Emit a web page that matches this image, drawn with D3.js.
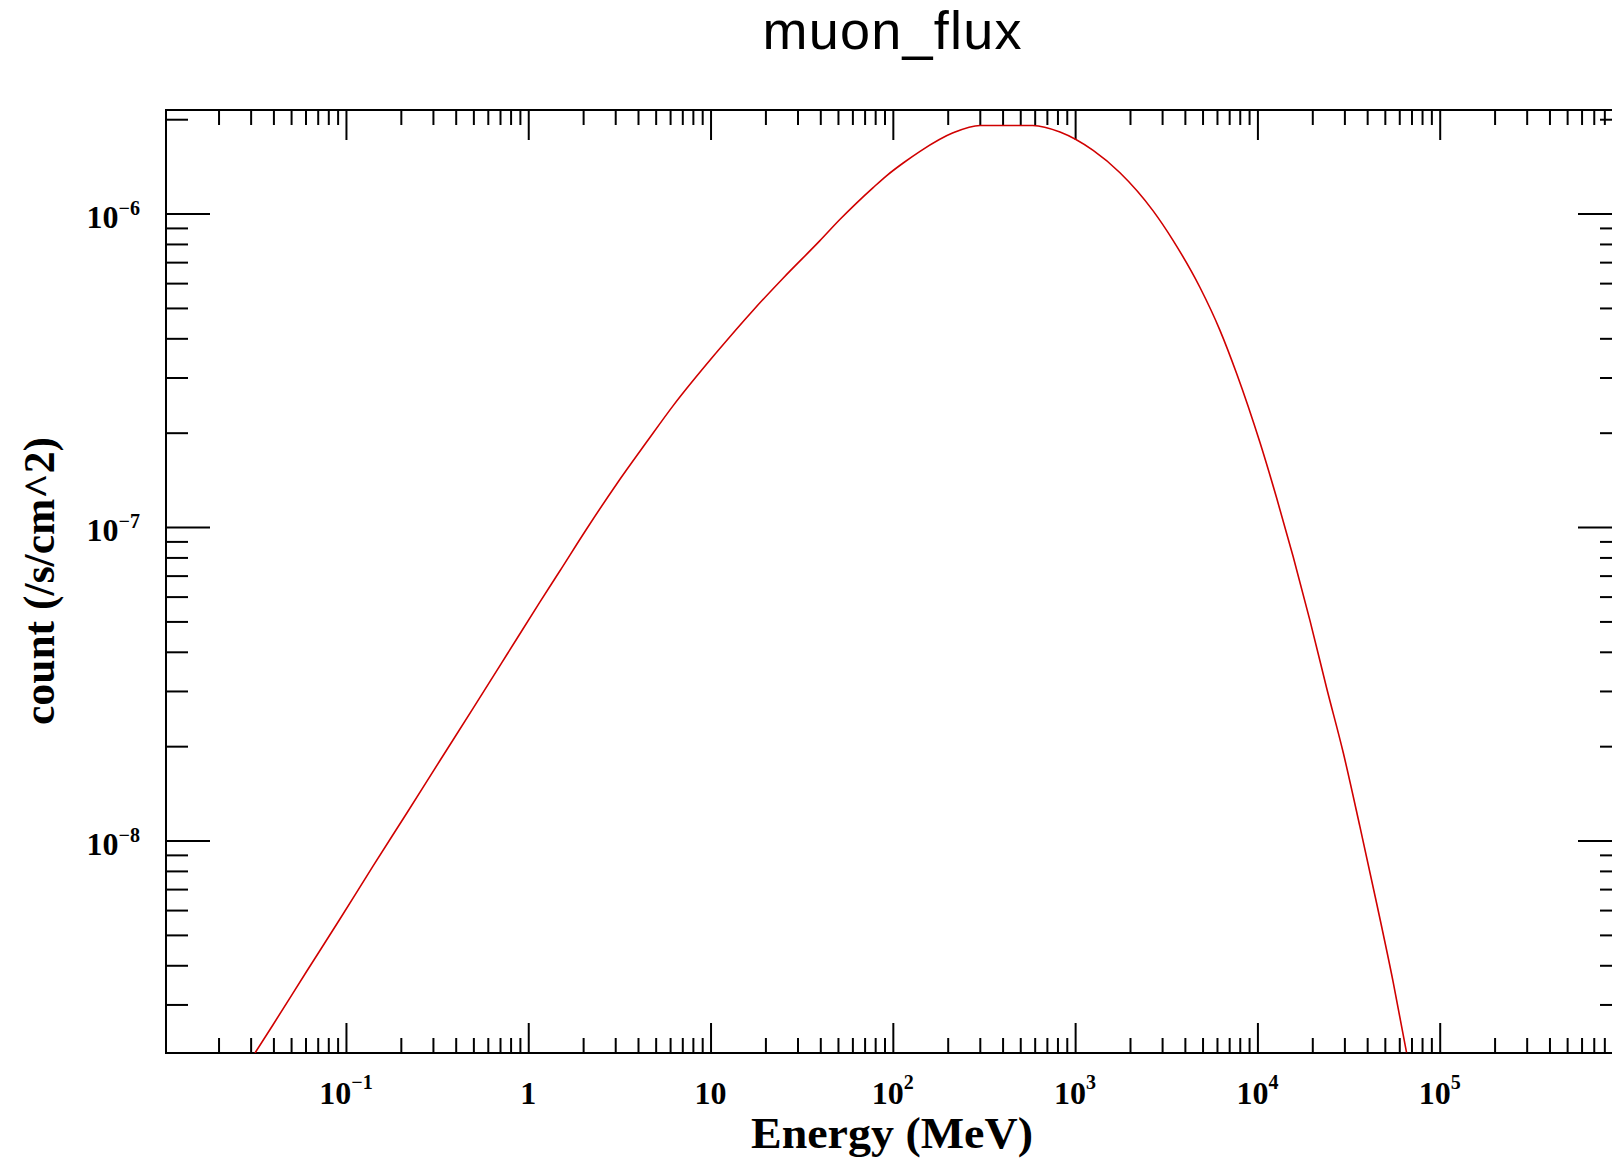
<!DOCTYPE html>
<html>
<head>
<meta charset="utf-8">
<script src="https://cdn.jsdelivr.net/npm/d3@7"></script>
<style>
  html, body { margin: 0; padding: 0; background: #ffffff; }
  svg { display: block; }
</style>
</head>
<body>
<svg id="chart" width="1612" height="1160"></svg>
<script>
// ---- data ----
const energyMeV = [0.0317, 0.0399, 0.0608, 0.0927, 0.141, 0.215, 0.328, 0.500, 0.764, 1.16,
  1.49, 2.09, 3.05, 4.47, 6.24, 10.8, 17.1, 25.0, 39.7, 51.2,
  63.2, 78.0, 92.3, 114, 141, 214, 301, 586, 826, 1256,
  1762, 2679, 3451, 4842, 6223, 7691, 10330, 12740, 15700, 19410,
  23990, 29580, 36480, 45080, 55590, 65770];
const muonFlux = [2.10e-9, 2.59e-9, 3.82e-9, 5.62e-9, 8.30e-9, 1.22e-8, 1.80e-8, 2.65e-8, 3.92e-8, 5.77e-8,
  7.24e-8, 9.86e-8, 1.37e-7, 1.87e-7, 2.44e-7, 3.61e-7, 4.91e-7, 6.22e-7, 8.18e-7, 9.57e-7,
  1.08e-6, 1.21e-6, 1.32e-6, 1.45e-6, 1.58e-6, 1.81e-6, 1.91e-6, 1.91e-6, 1.82e-6, 1.59e-6,
  1.35e-6, 1.02e-6, 8.20e-7, 5.81e-7, 4.25e-7, 3.09e-7, 1.86e-7, 1.24e-7, 8.05e-8, 5.04e-8,
  3.06e-8, 1.905e-8, 1.109e-8, 6.31e-9, 3.53e-9, 2.11e-9];

const xDomain = [0.0103, 1e6];
const yDomain = [2.10e-9, 2.14e-6];

const xLabelValues = [0.1, 1, 10, 100, 1e3, 1e4, 1e5];
const xLabelTexts = [["10", "\u22121"], ["1", ""], ["10", ""], ["10", "2"], ["10", "3"], ["10", "4"], ["10", "5"]];
const yLabelValues = [1e-8, 1e-7, 1e-6];
const yLabelTexts = [["10", "\u22128"], ["10", "\u22127"], ["10", "\u22126"]];

const titleText = "muon_flux";
const xTitle = "Energy (MeV)";
const yTitle = "count (/s/cm^2)";

// ---- layout ----
const L = 166, T = 110, B = 1053, R = 1622;
const svg = d3.select("#chart");

const x = d3.scaleLog().domain(xDomain).range([L, R]);
const y = d3.scaleLog().domain(yDomain).range([B, T]);

function inDom(s, v) { const d = s.domain(); return v >= d[0] * 0.9999 && v <= d[1] * 1.0001; }
const xMajor = d3.range(-2, 7).map(e => Math.pow(10, e)).filter(v => inDom(x, v));
const xMinor = [];
d3.range(-2, 6).forEach(e => { for (let k = 2; k <= 9; k++) { const v = k * Math.pow(10, e); if (inDom(x, v)) xMinor.push(v); } });
const yMajor = d3.range(-9, -4).map(e => Math.pow(10, e)).filter(v => inDom(y, v));
const yMinor = [];
d3.range(-9, -5).forEach(e => { for (let k = 2; k <= 9; k++) { const v = k * Math.pow(10, e); if (inDom(y, v)) yMinor.push(v); } });

function drawAxis(axis, tx, ty) {
  const g = svg.append("g").attr("transform", `translate(${tx},${ty})`).call(axis);
  g.select(".domain").remove();
  g.selectAll(".tick line").attr("stroke", "#000").attr("stroke-width", 2);
  g.selectAll(".tick text").remove();
  return g;
}
const blank = () => "";
// bottom
drawAxis(d3.axisTop(x).tickValues(xMajor).tickSize(30).tickFormat(blank), 0, B);
drawAxis(d3.axisTop(x).tickValues(xMinor).tickSize(15).tickFormat(blank), 0, B);
// top
drawAxis(d3.axisBottom(x).tickValues(xMajor).tickSize(30).tickFormat(blank), 0, T);
drawAxis(d3.axisBottom(x).tickValues(xMinor).tickSize(15).tickFormat(blank), 0, T);
// left
drawAxis(d3.axisRight(y).tickValues(yMajor).tickSize(44).tickFormat(blank), L, 0);
drawAxis(d3.axisRight(y).tickValues(yMinor).tickSize(22).tickFormat(blank), L, 0);
// right
drawAxis(d3.axisLeft(y).tickValues(yMajor).tickSize(44).tickFormat(blank), R, 0);
drawAxis(d3.axisLeft(y).tickValues(yMinor).tickSize(22).tickFormat(blank), R, 0);

// frame
svg.append("rect").attr("x", L).attr("y", T).attr("width", R - L).attr("height", B - T)
  .attr("fill", "none").attr("stroke", "#000").attr("stroke-width", 2);

// curve
svg.append("clipPath").attr("id", "plotclip").append("rect")
  .attr("x", L).attr("y", T).attr("width", R - L).attr("height", B - T);
const pts = energyMeV.map((e, i) => [e, muonFlux[i]]);
const line = d3.line().x(d => x(d[0])).y(d => y(d[1])).curve(d3.curveMonotoneX);
svg.append("path").attr("d", line(pts)).attr("clip-path", "url(#plotclip)")
  .attr("fill", "none").attr("stroke", "#d00000").attr("stroke-width", 1.6);

// tick labels
const serif = "'Liberation Serif', 'Times New Roman', serif";
xLabelValues.forEach((v, i) => {
  const t = svg.append("text").attr("x", x(v)).attr("y", 1104)
    .attr("text-anchor", "middle").attr("font-family", serif).attr("font-weight", "bold")
    .attr("font-size", 32).attr("fill", "#000");
  t.append("tspan").text(xLabelTexts[i][0]);
  if (xLabelTexts[i][1]) t.append("tspan").attr("dy", -15).attr("font-size", 20).text(xLabelTexts[i][1]);
});
yLabelValues.forEach((v, i) => {
  const t = svg.append("text").attr("x", 140).attr("y", y(v) + 14)
    .attr("text-anchor", "end").attr("font-family", serif).attr("font-weight", "bold")
    .attr("font-size", 32).attr("fill", "#000");
  t.append("tspan").text(yLabelTexts[i][0]);
  t.append("tspan").attr("dy", -13).attr("font-size", 20).text(yLabelTexts[i][1]);
});

// axis titles
svg.append("text").attr("x", 892).attr("y", 1148).attr("text-anchor", "middle")
  .attr("font-family", serif).attr("font-weight", "bold").attr("font-size", 44)
  .attr("textLength", 282).attr("lengthAdjust", "spacingAndGlyphs").text(xTitle);
svg.append("text").attr("transform", `translate(54,581) rotate(-90)`).attr("text-anchor", "middle")
  .attr("font-family", serif).attr("font-weight", "bold").attr("font-size", 45)
  .attr("textLength", 288).attr("lengthAdjust", "spacingAndGlyphs").text(yTitle);

// title
svg.append("text").attr("x", 892).attr("y", 49).attr("text-anchor", "middle")
  .attr("font-family", "'Liberation Sans', Arial, sans-serif").attr("font-size", 54)
  .attr("textLength", 259).attr("lengthAdjust", "spacing").text(titleText);
</script>
</body>
</html>
